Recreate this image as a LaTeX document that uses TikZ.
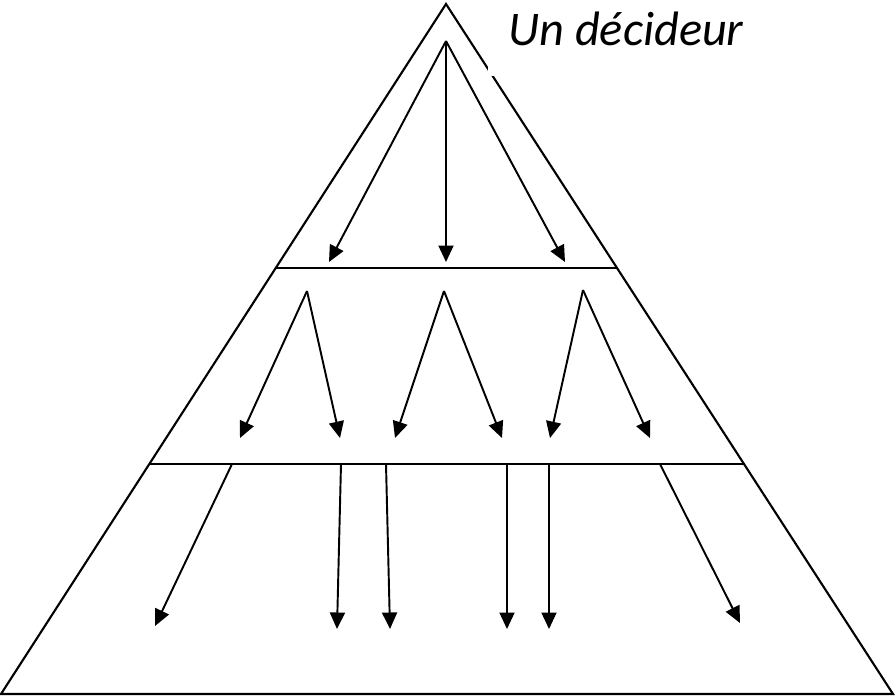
\documentclass[tikz,border=0pt]{standalone}
\usepackage{fontspec}
\setmainfont{Carlito}
\usetikzlibrary{arrows.meta,calc}

\begin{document}
\begin{tikzpicture}[
  x=0.02cm, y=-0.02cm,
  every node/.style={font=\fontsize{27.5}{32}\selectfont\itshape},
  side/.style={line width=1.2pt,line join=miter},
  level/.style={line width=1.2pt},
  flow/.style={-{Triangle[length=3.3mm,width=3mm]},line width=1.1pt}
]
  \useasboundingbox (0,0) rectangle (896,698);

  % pyramid outline
  \coordinate (apex) at (446,4);
  \coordinate (bl) at (1,694);
  \coordinate (br) at (893,694);
  \draw[side] (apex) -- (bl) -- (br) -- cycle;
  \node[fill=white,anchor=base west,inner xsep=0.4cm,inner ysep=0.62cm] (boss) at (488,45) {Un décideur};

  % levels
  \coordinate (l1w) at ($(apex)!0.3826!(bl)$);
  \coordinate (l1e) at ($(apex)!0.3826!(br)$);
  \coordinate (l2w) at ($(apex)!0.6667!(bl)$);
  \coordinate (l2e) at ($(apex)!0.6667!(br)$);
  \draw[level] (l1w) -- (l1e);
  \draw[level] (l2w) -- (l2e);

  % top: one decision maker
  \coordinate (top) at (446,41);
  \coordinate (t1) at (329,262);
  \coordinate (t2) at (446,262);
  \coordinate (t3) at (565,262);
  \draw[flow] (top) -- (t1);
  \draw[flow] (top) -- (t2);
  \draw[flow] (top) -- (t3);

  % middle: three relays
  \coordinate (m1) at (307,291);
  \coordinate (m2) at (444,291);
  \coordinate (m3) at (583,290);
  \coordinate (m1a) at (240,438);
  \coordinate (m1b) at (340,438);
  \coordinate (m2a) at (395,438);
  \coordinate (m2b) at (502,438);
  \coordinate (m3a) at (550,438);
  \coordinate (m3b) at (650,438);
  \draw[flow] (m1) -- (m1a);
  \draw[flow] (m1) -- (m1b);
  \draw[flow] (m2) -- (m2a);
  \draw[flow] (m2) -- (m2b);
  \draw[flow] (m3) -- (m3a);
  \draw[flow] (m3) -- (m3b);

  % bottom: execution
  \coordinate (b1) at (232,464);
  \coordinate (b2) at (341,464);
  \coordinate (b3) at (386,464);
  \coordinate (b4) at (507,464);
  \coordinate (b5) at (549,464);
  \coordinate (b6) at (660,464);
  \coordinate (e1) at (155,626);
  \coordinate (e2) at (337,629);
  \coordinate (e3) at (390,629);
  \coordinate (e4) at (507,629);
  \coordinate (e5) at (549,629);
  \coordinate (e6) at (740,623);
  \draw[flow] (b1) -- (e1);
  \draw[flow] (b2) -- (e2);
  \draw[flow] (b3) -- (e3);
  \draw[flow] (b4) -- (e4);
  \draw[flow] (b5) -- (e5);
  \draw[flow] (b6) -- (e6);
\end{tikzpicture}
\end{document}
